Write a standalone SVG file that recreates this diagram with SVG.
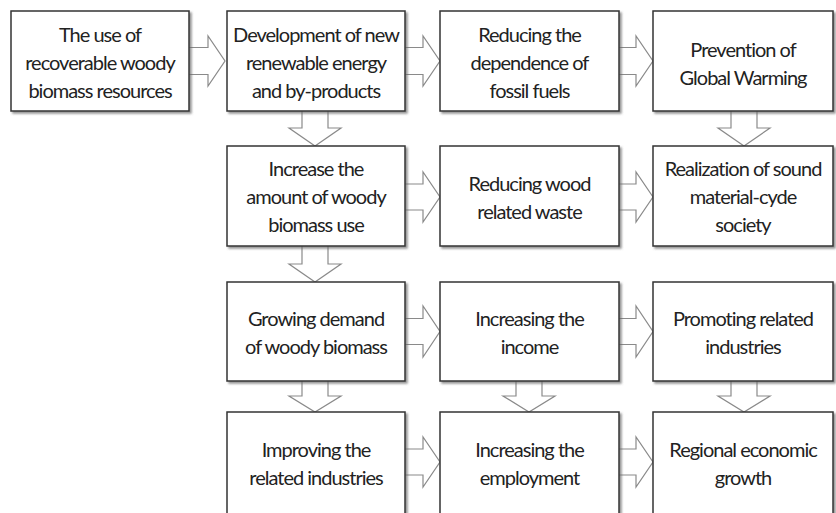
<svg xmlns="http://www.w3.org/2000/svg" width="836" height="513" viewBox="0 0 836 513">
<defs>
<filter id="sh" x="-10%" y="-10%" width="130%" height="130%">
<feDropShadow dx="2" dy="2" stdDeviation="1.2" flood-color="#666" flood-opacity="0.7"/>
</filter>
</defs>
<style>
.box{fill:#fff;stroke:#333;stroke-width:1.5;filter:url(#sh)}
.arr{fill:#fff;stroke:#8a8a8a;stroke-width:1.2;stroke-linejoin:miter}
text{font-family:Lato,"Open Sans","Liberation Sans",sans-serif;font-size:20px;fill:#222;text-anchor:middle;letter-spacing:-1px}
</style>
<rect width="836" height="513" fill="#fff"/>
<g id="connectors">
<path class="arr" d="M189,47.5 H208 V36 L225,61 L208,86 V74.5 H189"/>
<path class="arr" d="M405,47.5 H423 V36 L440,61 L423,86 V74.5 H405"/>
<path class="arr" d="M619,47.5 H636 V36 L653,61 L636,86 V74.5 H619"/>
<path class="arr" d="M302,111 V128 H289 L315,146 L341,128 H328 V111"/>
<path class="arr" d="M731,111 V128 H718 L744,146 L770,128 H757 V111"/>
<path class="arr" d="M405,184 H423 V172 L440,197 L423,222 V210 H405"/>
<path class="arr" d="M619,184 H636 V172 L653,197 L636,222 V210 H619"/>
<path class="arr" d="M302,246 V264 H289 L315,282 L341,264 H328 V246"/>
<path class="arr" d="M405,318.5 H423 V306 L440,331.5 L423,357 V344.5 H405"/>
<path class="arr" d="M619,318.5 H636 V306 L653,331.5 L636,357 V344.5 H619"/>
<path class="arr" d="M302,381 V396 H289 L315,412 L341,396 H328 V381"/>
<path class="arr" d="M516,381 V396 H503 L529,412 L555,396 H542 V381"/>
<path class="arr" d="M731,381 V396 H718 L744,412 L770,396 H757 V381"/>
<path class="arr" d="M405,449 H423 V437 L440,462 L423,487 V475 H405"/>
<path class="arr" d="M619,449 H636 V437 L653,462 L636,487 V475 H619"/>
</g>
<g id="n1"><rect class="box" x="11" y="11" width="178" height="100"/><text x="100" y="42">The use of</text><text x="100" y="70">recoverable woody</text><text x="100" y="98">biomass resources</text></g>
<g id="n2"><rect class="box" x="227" y="11" width="178" height="100"/><text x="316" y="42">Development of new</text><text x="316" y="70">renewable energy</text><text x="316" y="98">and by-products</text></g>
<g id="n3"><rect class="box" x="440" y="11" width="179" height="100"/><text x="529.5" y="42">Reducing the</text><text x="529.5" y="70">dependence of</text><text x="529.5" y="98">fossil fuels</text></g>
<g id="n4"><rect class="box" x="653" y="11" width="180" height="100"/><text x="743" y="57">Prevention of</text><text x="743" y="85">Global Warming</text></g>
<g id="n5"><rect class="box" x="227" y="146" width="178" height="100"/><text x="316" y="176">Increase the</text><text x="316" y="204">amount of woody</text><text x="316" y="232">biomass use</text></g>
<g id="n6"><rect class="box" x="440" y="146" width="179" height="100"/><text x="529.5" y="191">Reducing wood</text><text x="529.5" y="219">related waste</text></g>
<g id="n7"><rect class="box" x="653" y="146" width="180" height="100"/><text x="743" y="176">Realization of sound</text><text x="743" y="204">material-cyde</text><text x="743" y="232">society</text></g>
<g id="n8"><rect class="box" x="227" y="282" width="178" height="99"/><text x="316" y="326">Growing demand</text><text x="316" y="354">of woody biomass</text></g>
<g id="n9"><rect class="box" x="440" y="282" width="179" height="99"/><text x="529.5" y="326">Increasing the</text><text x="529.5" y="354">income</text></g>
<g id="n10"><rect class="box" x="653" y="282" width="180" height="99"/><text x="743" y="326">Promoting related</text><text x="743" y="354">industries</text></g>
<g id="n11"><rect class="box" x="227" y="412" width="178" height="104"/><text x="316" y="457">Improving the</text><text x="316" y="485">related industries</text></g>
<g id="n12"><rect class="box" x="440" y="412" width="179" height="104"/><text x="529.5" y="457">Increasing the</text><text x="529.5" y="485">employment</text></g>
<g id="n13"><rect class="box" x="653" y="412" width="180" height="104"/><text x="743" y="457">Regional economic</text><text x="743" y="485">growth</text></g>
</svg>
